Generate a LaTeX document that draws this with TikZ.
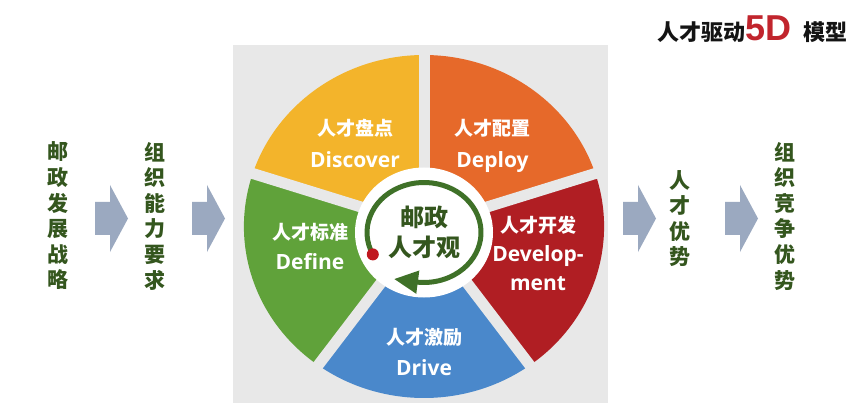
\documentclass[tikz,border=0pt]{standalone}
\usepackage{fontspec}
\setmainfont{Noto Sans CJK SC}
\newfontfamily\latfont{Open Sans}
\newfontfamily\digitfont{Liberation Sans}
\usetikzlibrary{arrows.meta,shapes.geometric}

\definecolor{bggray}{RGB}{232,232,232}
\definecolor{wedgeyellow}{RGB}{243,180,43}
\definecolor{wedgeorange}{RGB}{230,105,42}
\definecolor{wedgered}{RGB}{176,30,35}
\definecolor{wedgeblue}{RGB}{74,136,203}
\definecolor{wedgegreen}{RGB}{96,162,58}
\definecolor{ringgreen}{RGB}{63,113,40}
\definecolor{textgreen}{RGB}{52,86,30}
\definecolor{arrowgray}{RGB}{155,169,192}
\definecolor{dotred}{RGB}{192,23,31}
\definecolor{titlered}{RGB}{193,37,45}
\definecolor{titleblack}{RGB}{20,20,20}

\begin{document}
\begin{tikzpicture}[
        x=1pt, y=-1pt,
        sidetext/.style={font=\bfseries\fontsize{21}{25.6}\selectfont, text=textgreen, align=center, inner sep=0pt},
        wedgetext/.style={font=\bfseries\fontsize{19}{31}\selectfont, text=white, align=center, inner sep=0pt},
        hub/.style={ellipse, fill=white, minimum width=138pt, minimum height=130pt, inner sep=0pt, align=center, font=\bfseries\fontsize{24}{30}\selectfont, text=textgreen},
        gapline/.style={draw=bggray, line width=11pt},
        ring/.style={draw=ringgreen, line width=5pt, -{Triangle[length=24pt, width=22pt]}},
        reddot/.style={circle, fill=dotred, minimum size=12pt, inner sep=0pt},
        blockarrow/.style={fill=arrowgray}
    ]
    \useasboundingbox (0,0) rectangle (863,409);
    \fill[white] (0,0) rectangle (863,409);

    % --- Gray panel ---
    \fill[bggray] (233,45) rectangle (608,403);

    % --- Five wedges ---
    \begin{scope}[shift={(424,226.5)}, xscale=1.05]
        \foreach \a/\c in {270/wedgeorange, 342/wedgered, 54/wedgeblue, 126/wedgegreen, 198/wedgeyellow}
            \fill[\c] (0,0) -- (\a:171.5) arc[start angle=\a, delta angle=72, radius=171.5] -- cycle;
        \foreach \a in {270, 342, 54, 126, 198}
            \draw[gapline] (0,0) -- (\a:175);
    \end{scope}

    % --- Hub ---
    \node[hub] (core) at (424,232.5) {邮政\\人才观};
    \coordinate (ringstart) at (372.8,254.4);
    \coordinate (ringtip) at (394,279);
    \draw[ring] (ringstart) arc[start angle=154, end angle=455, x radius=57, y radius=50] -- (ringtip);
    \node[reddot] (dot) at (ringstart) {};

    % --- Wedge labels ---
    \node[wedgetext] (discover) at (355,143) {人才盘点\\[1pt]{\latfont\fontsize{21}{31}\selectfont Discover}};
    \node[wedgetext] (deploy) at (492.5,145.5) {人才配置\\[1pt]{\latfont\fontsize{21}{31}\selectfont Deploy}};
    \node[wedgetext] (define) at (310,246) {人才标准\\[-1pt]{\latfont\fontsize{21}{31}\selectfont Define}};
    \node[wedgetext] (develop) at (538,253) {人才开发\\[-2pt]{\latfont\fontsize{21}{31}\selectfont Develop-}\\[-2pt]{\latfont\fontsize{21}{31}\selectfont ment}};
    \node[wedgetext] (drive) at (424,351.5) {人才激励\\{\latfont\fontsize{21}{31}\selectfont Drive}};

    % --- Side columns ---
    \node[sidetext] (strategy) at (58,216) {邮\\政\\发\\展\\战\\略};
    \node[sidetext] (capability) at (155,216) {组\\织\\能\\力\\要\\求};
    \node[sidetext] (advantage) at (680,218.5) {人\\才\\优\\势};
    \node[sidetext] (compete) at (785,216) {组\\织\\竞\\争\\优\\势};

    % --- Block arrows ---
    \foreach \x in {95,192,623,725}
        \fill[blockarrow] (\x,202) -- ++(15,0) -- ++(0,-17) -- ++(18,33.5) -- ++(-18,33.5) -- ++(0,-17) -- ++(-15,0) -- cycle;

    % --- Title ---
    \node[anchor=base west, inner sep=0pt, font=\bfseries\fontsize{22}{22}\selectfont, text=titleblack] (title) at (657,40.5)
        {人才驱动{\digitfont\fontsize{36}{36}\selectfont\color{titlered}5D}\hspace{12pt}模型};
\end{tikzpicture}
\end{document}
